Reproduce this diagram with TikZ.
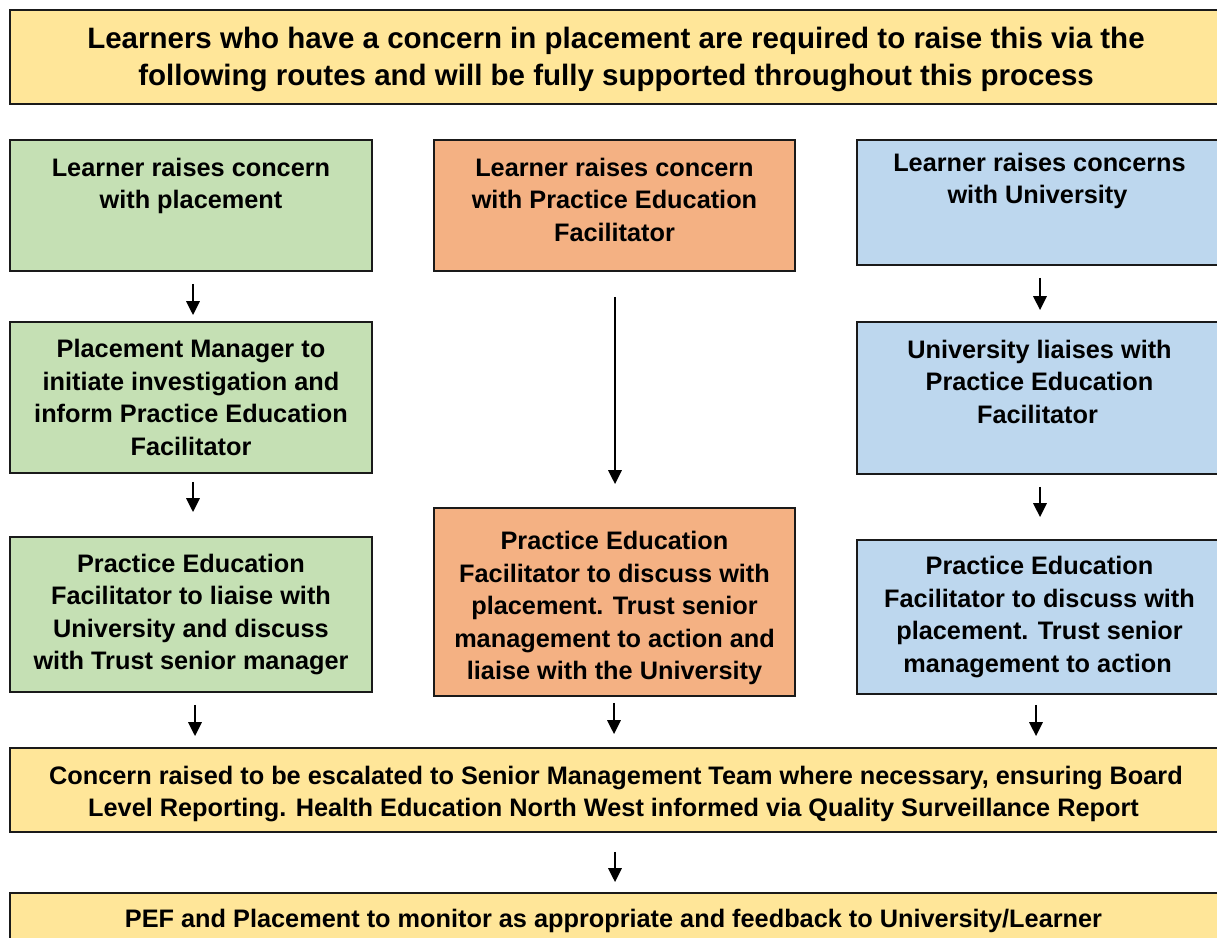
\documentclass[tikz,border=0pt]{standalone}
\usepackage{fontspec}
\setmainfont{Liberation Sans}
\usetikzlibrary{arrows.meta}
\definecolor{yel}{HTML}{FFE699}
\definecolor{grn}{HTML}{C5E0B4}
\definecolor{org}{HTML}{F4B183}
\definecolor{blu}{HTML}{BDD7EE}
\definecolor{edge}{HTML}{1A1A1A}
\newcommand{\bxt}[4]{\parbox[c][#2][#3]{#1}{\centering #4\par}}
\begin{document}
\begin{tikzpicture}[x=1pt,y=-1pt,
  box/.style={draw=edge,line width=1.6pt,inner sep=0pt,rectangle,font=\bfseries\fontsize{25.3}{32.5}\selectfont},
  arr/.style={line width=2.9pt,-{Triangle[width=13pt,length=14pt]}}]
\useasboundingbox (0,0) rectangle (1217,937);
% top
\node[box,fill=yel,font=\bfseries\fontsize{29.5}{37}\selectfont] (top) at (616,57)
  {\bxt{1212pt}{94pt}{c}{\vspace*{5pt}Learners who have a concern in placement are required to raise this via the\\ following routes and will be fully supported throughout this process}};
% green column
\node[box,fill=grn] (g1) at (191,205.5) {\bxt{362pt}{131pt}{t}{\vspace*{18pt}Learner raises concern\\ with placement}};
\node[box,fill=grn] (g2) at (191,397.5) {\bxt{362pt}{151pt}{c}{Placement Manager to\\ initiate investigation and\\ inform Practice Education\\ Facilitator}};
\node[box,fill=grn] (g3) at (191,614.5) {\bxt{362pt}{155pt}{c}{Practice Education\\ Facilitator to liaise with\\ University and discuss\\ with Trust senior manager}};
% orange column
\node[box,fill=org] (o1) at (614.5,205.5) {\bxt{361pt}{131pt}{t}{\vspace*{18pt}Learner raises concern\\ with Practice Education\\ Facilitator}};
\node[box,fill=org] (o2) at (614.5,602) {\bxt{361pt}{188pt}{c}{\vspace*{12pt}Practice Education\\ Facilitator to discuss with\\ placement. Trust senior\\ management to action and\\ liaise with the University}};
% blue column
\node[box,fill=blu] (b1) at (1039.5,202.5) {\bxt{365pt}{125pt}{t}{\vspace*{13pt}Learner raises concerns\\ with University\hspace*{4pt}}};
\node[box,fill=blu] (b2) at (1039.5,398) {\bxt{365pt}{152pt}{t}{\vspace*{18pt}University liaises with\\ Practice Education\\ Facilitator\hspace*{4pt}}};
\node[box,fill=blu] (b3) at (1039.5,617) {\bxt{365pt}{154pt}{c}{Practice Education\\ Facilitator to discuss with\\ placement. Trust senior\\ management to action\hspace*{4pt}}};
% bottom boxes
\node[box,fill=yel] (y2) at (616,790) {\bxt{1212pt}{84pt}{c}{\vspace*{8pt}Concern raised to be escalated to Senior Management Team where necessary, ensuring Board\\ Level Reporting. Health Education North West informed via Quality Surveillance Report\hspace*{5pt}}};
\node[box,fill=yel] (y3) at (616,926.5) {\bxt{1212pt}{67pt}{t}{\vspace*{16pt}PEF and Placement to monitor as appropriate and feedback to University/Learner\hspace*{5pt}}};
% arrows green
\draw[arr,shorten <=12pt,shorten >=6pt] (g1.south -| 193,0) -- (g2.north -| 193,0);
\draw[arr,shorten <=8pt,shorten >=24pt] (g2.south -| 193,0) -- (g3.north -| 193,0);
\draw[arr,shorten <=12pt,shorten >=11pt] (g3.south -| 195,0) -- (y2.north -| 195,0);
% arrows orange
\draw[arr,shorten <=25pt,shorten >=23pt] (o1.south -| 615,0) -- (o2.north -| 615,0);
\draw[arr,shorten <=6pt,shorten >=13pt] (o2.south -| 614,0) -- (y2.north -| 614,0);
% arrows blue
\draw[arr,shorten <=12pt,shorten >=11pt] (b1.south -| 1040,0) -- (b2.north -| 1040,0);
\draw[arr,shorten <=12pt,shorten >=22pt] (b2.south -| 1040,0) -- (b3.north -| 1040,0);
\draw[arr,shorten <=10pt,shorten >=11pt] (b3.south -| 1036,0) -- (y2.north -| 1036,0);
% final arrow
\draw[arr,shorten <=19pt,shorten >=10pt] (y2.south -| 615,0) -- (y3.north -| 615,0);
\end{tikzpicture}
\end{document}
